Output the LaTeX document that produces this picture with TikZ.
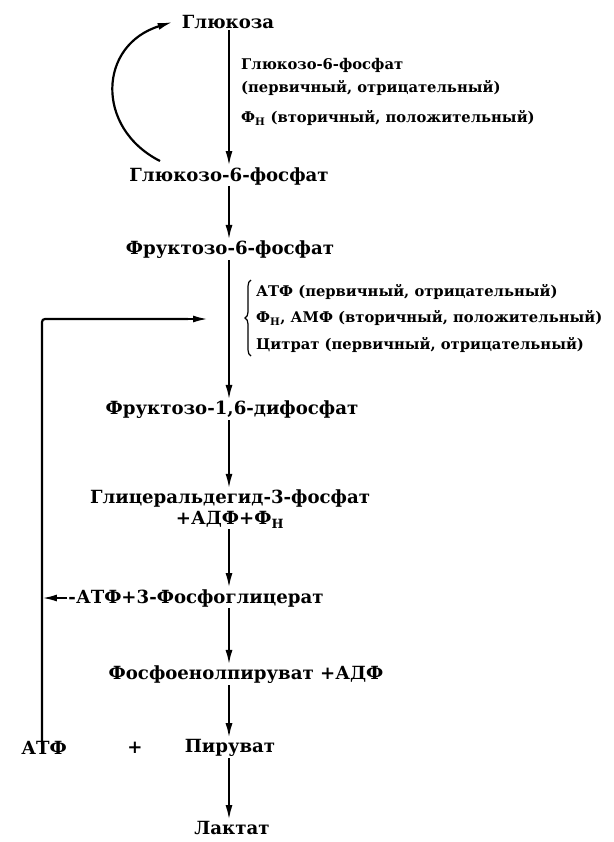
\documentclass[tikz,border=0pt]{standalone}
\usepackage{fontspec}
\setmainfont{DejaVu Serif}
\usetikzlibrary{arrows.meta,positioning,decorations.pathreplacing}

\begin{document}
\begin{tikzpicture}[x=1bp, y=-1bp,
    metab/.style={font=\bfseries\fontsize{18.2}{21}\selectfont, inner sep=1pt},
    reg/.style={font=\bfseries\fontsize{14.8}{17}\selectfont, anchor=west, inner sep=1pt},
    line/.style={draw, line width=2.2pt, -{Latex[length=15pt, width=7pt]}},
    brace/.style={draw, line width=1.2pt, decorate, decoration={brace, amplitude=6pt}}
]
    \useasboundingbox (0,0) rectangle (614,842);
    \coordinate (axis) at (229,0);

    % Glycolysis chain
    \node [metab] (glc) at (228,22) {Глюкоза};
    \node [metab] (g6p) at (229,176) {Глюкозо-6-фосфат};
    \node [metab] (f6p) at (230,250) {Фруктозо-6-фосфат};
    \node [metab] (f16bp) at (232,410) {Фруктозо-1,6-дифосфат};
    \node [metab, align=center] (gap) at (230,509) {Глицеральдегид-3-фосфат\\+АДФ+Ф\textsubscript{Н}};
    \node [metab] (pg3) at (196,598) {-АТФ+3-Фосфоглицерат};
    \node [metab] (pep) at (246,675) {Фосфоенолпируват +АДФ};
    \node [metab] (pyr) at (230,748) {Пируват};
    \node [metab] (atp) at (44,748) {АТФ};
    \node [metab] (plus) at (135,748) {+};
    \node [metab] (lac) at (232,828) {Лактат};

    % Regulators of hexokinase
    \node [reg] (hkA) at (240,65) {Глюкозо-6-фосфат};
    \node [reg] (hkB) at (240,88) {(первичный, отрицательный)};
    \node [reg] (hkC) at (240,118) {Ф\textsubscript{Н} (вторичный, положительный)};

    % Regulators of phosphofructokinase
    \node [reg] (pfkA) at (255,292) {АТФ (первичный, отрицательный)};
    \node [reg] (pfkB) at (255,318) {Ф\textsubscript{Н}, АМФ (вторичный, положительный)};
    \node [reg] (pfkC) at (255,345) {Цитрат (первичный, отрицательный)};
    \draw [brace] (251,356) -- (251,280);

    % Connections
    \path [line] (glc.south -| axis) -- (g6p.north -| axis);
    \path [line] (g6p.south -| axis) -- (f6p.north -| axis);
    \path [line] (f6p.south -| axis) -- (f16bp.north -| axis);
    \path [line] (f16bp.south -| axis) -- (gap.north -| axis);
    \path [line] (gap.south -| axis) -- (pg3.north -| axis);
    \path [line] (pg3.south -| axis) -- (pep.north -| axis);
    \path [line] (pep.south -| axis) -- (pyr.north -| axis);
    \path [line] (pyr.south -| axis) -- (lac.north -| axis);
    \path [line] (160,161) .. controls (95,128) and (98,45) .. ([xshift=-8pt]glc.west);

    % ATP feedback
    \coordinate (fb) at (208,319);
    \draw [line width=2.2pt, rounded corners=3pt] ([yshift=-4pt]atp.north -| 42,0) |- ([xshift=-20pt]fb);
    \path [line] ([xshift=-21pt]fb) -- (fb);
    \path [line] (pg3.west) -- (pg3.west -| 42,0);

\end{tikzpicture}
\end{document}
